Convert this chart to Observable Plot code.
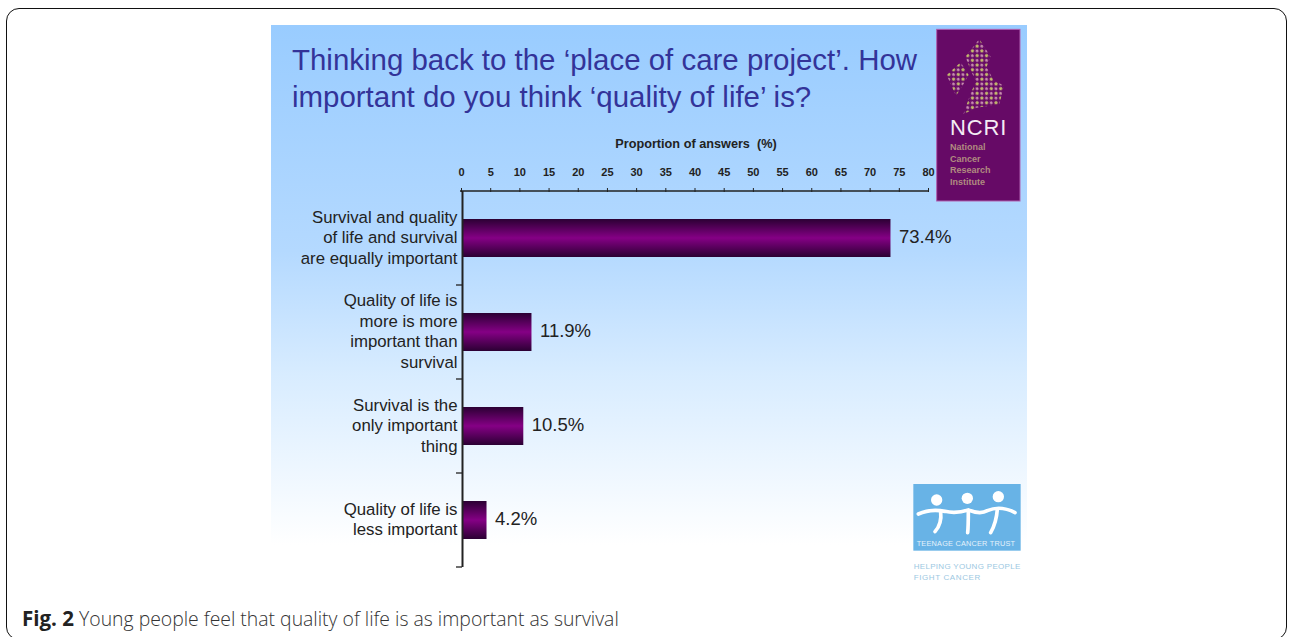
<!DOCTYPE html>
<html>
<head>
<meta charset="utf-8">
<script src="https://cdn.jsdelivr.net/npm/d3@7"></script>
<script src="https://cdn.jsdelivr.net/npm/@observablehq/plot@0.6"></script>
<style>
html,body{margin:0;padding:0;background:#fff;overflow:hidden}
#page{position:relative;width:1290px;height:637px;overflow:hidden;font-family:"Liberation Sans",Arial,sans-serif}
#card{position:absolute;left:6px;top:8px;width:1281px;height:632px;border:1px solid #111;border-radius:13px;box-sizing:border-box}
#panel{position:absolute;left:271px;top:25px;width:756px;height:565px;background:linear-gradient(180deg,#99ccff 0%,#b4d9ff 40%,#d8ecff 62%,#ffffff 92%,#ffffff 100%)}
#title{position:absolute;left:292px;top:41px;width:640px;color:#333399;font-size:29.45px;line-height:37px;white-space:pre}
#chart{position:absolute;left:0;top:0}
#chart svg{background:transparent!important}
#caption{position:absolute;left:22px;top:604px;font-family:"Open Sans",sans-serif;font-weight:300;font-size:19.4px;color:#333;white-space:pre}
#caption b{color:#222;font-weight:700;font-size:20.5px}
.logo{position:absolute}
</style>
</head>
<body>
<div id="page">
  <div id="card"></div>
  <div id="panel"></div>
  <div id="title">Thinking back to the ‘place of care project’. How
important do you think ‘quality of life’ is?</div>
  <svg class="logo" style="left:930px;top:25px" width="100" height="180" viewBox="0 0 300 540" font-family="Liberation Sans, Arial, sans-serif">
    <defs>
      <pattern id="dots" width="20" height="20" patternUnits="userSpaceOnUse" patternTransform="rotate(45)">
        <circle cx="5" cy="5" r="5" fill="#c4bd6c"/>
        <circle cx="15" cy="15" r="4.4" fill="#c98fb0"/>
      </pattern>
    </defs>
    <rect x="20" y="13" width="250" height="515" fill="#660a66" stroke="#b060b0" stroke-width="3"/>
    <path d="M148,42 L182,95 L170,125 L190,165 L222,182 L208,238 L140,248 L100,268 L122,205 L138,170 L122,135 L106,95 Z" fill="url(#dots)"/>
    <path d="M92,112 L116,150 L94,188 L78,212 L50,150 Z" fill="url(#dots)"/>
    <text x="60" y="330" font-size="66" fill="#f4ecf4" letter-spacing="2.5">NCRI</text>
    <g font-size="27" font-weight="bold" fill="#b08c80">
      <text x="60" y="374">National</text>
      <text x="60" y="410">Cancer</text>
      <text x="60" y="444">Research</text>
      <text x="60" y="479">Institute</text>
    </g>
  </svg>
  <svg class="logo" style="left:900px;top:470px" width="140" height="125" viewBox="0 0 420 375" font-family="Liberation Sans, Arial, sans-serif">
    <rect x="40" y="42" width="322" height="200" fill="#68b3e6"/>
    <g fill="#fff">
      <circle cx="110" cy="90" r="17"/><circle cx="202" cy="85" r="17"/><circle cx="295" cy="80" r="17"/>
    </g>
    <g fill="none" stroke="#fff" stroke-width="11" stroke-linecap="round">
      <path d="M55,132 C85,118 115,120 135,124 C160,130 180,128 205,120 C225,128 245,132 262,122 C285,112 315,112 345,128"/>
      <path d="M122,125 C125,150 118,170 105,185"/>
      <path d="M205,122 C205,145 205,170 203,188"/>
      <path d="M292,118 C290,145 285,165 272,188"/>
    </g>
    <text x="50" y="227" font-size="22" fill="#e4f2fb" textLength="295">TEENAGE CANCER TRUST</text>
    <g font-size="24" fill="#9cc8e2">
      <text x="41" y="296" textLength="320">HELPING YOUNG PEOPLE</text>
      <text x="41" y="330" textLength="200">FIGHT CANCER</text>
    </g>
  </svg>
  <div id="chart"></div>
  <div id="caption"><b>Fig. 2</b> Young people feel that quality of life is as important as survival</div>
</div>
<script>
const categories = [
  "Survival and quality\nof life and survival\nare equally important",
  "Quality of life is\nmore is more\nimportant than\nsurvival",
  "Survival is the\nonly important\nthing",
  "Quality of life is\nless important"
];
const proportions = [73.4, 11.9, 10.5, 4.2];
const xTicks = [0,5,10,15,20,25,30,35,40,45,50,55,60,65,70,75,80];
const rows = categories.map((category, i) => ({category, value: proportions[i]}));
const ink = "#222";

const defs = () => {
  const s = d3.create("svg:defs");
  const g = s.append("linearGradient").attr("id","barGrad").attr("x1",0).attr("x2",0).attr("y1",0).attr("y2",1);
  [[0,"#2b0033"],[0.5,"#850085"],[1,"#2b0033"]].forEach(([o,c]) => g.append("stop").attr("offset",o).attr("stop-color",c));
  return s.node();
};
// axis frame: the top line across the x scale and the ticks on the band edges of the y scale
const frame = (index, {x, y}, values, {marginTop}) => {
  const g = d3.create("svg:g").attr("stroke", ink).attr("stroke-width", 1.3).attr("fill", "none");
  const step = y(categories[1]) - y(categories[0]);
  g.append("line").attr("x1", x(0) - 2).attr("x2", x(80)).attr("y1", marginTop).attr("y2", marginTop);
  categories.forEach((c, i) => {
    const e = marginTop + (i + 1) * step;
    g.append("line").attr("x1", x(0) - 6).attr("x2", x(0)).attr("y1", e).attr("y2", e);
  });
  return g.node();
};

const chart = Plot.plot({
  width: 1290, height: 637,
  marginLeft: 462, marginRight: 361, marginTop: 191, marginBottom: 70,
  style: {background: "transparent", fontFamily: "Liberation Sans, Arial, sans-serif", overflow: "visible"},
  x: {domain: [0, 80]},
  y: {domain: categories, paddingInner: 0.6, paddingOuter: 0.3, align: 0.5},
  marks: [
    defs,
    Plot.barX(rows, {x: "value", y: "category", fill: "url(#barGrad)"}),
    Plot.axisX({anchor: "top", ticks: [], fontSize: 12.7, fontWeight: "bold", fill: "#222",
      label: "Proportion of answers  (%)", labelAnchor: "center", labelArrow: "none", labelOffset: 53}),
    Plot.axisX({anchor: "top", ticks: xTicks, tickSize: 4, tickPadding: 12, fontSize: 11, fontWeight: "bold", fill: "#222", stroke: ink, label: null, dx: -1}),
    Plot.axisY({anchor: "left", tickSize: 0, tickPadding: 5, fontSize: 16.8, lineHeight: 1.22, dy: -2, fill: ink, label: null,
      textOverflow: null, lineWidth: Infinity, tickFormat: d => d}),
    Plot.text(rows, {x: "value", y: "category", text: d => d.value.toFixed(1) + "%", dx: 8, dy: -1, textAnchor: "start", fontSize: 18.5, fill: ink}),
    Plot.ruleX([0], {stroke: ink, strokeWidth: 2}),
    frame
  ]
});
document.getElementById("chart").append(chart);
</script>
</body>
</html>
